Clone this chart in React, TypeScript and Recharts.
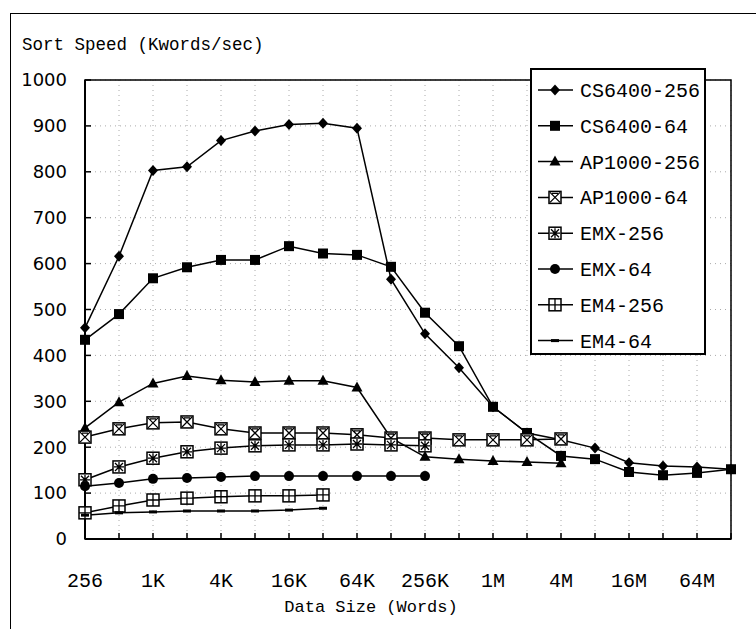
import {
  LineChart,
  Line,
  XAxis,
  YAxis,
  CartesianGrid,
  Legend,
  ReferenceArea,
} from "recharts";

const sizes = [
  "256", "512", "1K", "2K", "4K", "8K", "16K", "32K", "64K", "128K",
  "256K", "512K", "1M", "2M", "4M", "8M", "16M", "32M", "64M", "128M",
];
const shownTicks = ["256", "1K", "4K", "16K", "64K", "256K", "1M", "4M", "16M", "64M"];
const yTicks = [0, 100, 200, 300, 400, 500, 600, 700, 800, 900, 1000];

const cs6400_256 = [460, 616, 803, 811, 868, 889, 903, 906, 895, 566, 447, 373, 288, 231, 216, 198, 166, 159, 157, 152];
const cs6400_64 = [434, 490, 568, 592, 608, 608, 638, 622, 619, 593, 493, 420, 288, 231, 181, 174, 146, 139, 144, 152];
const ap1000_256 = [242, 298, 339, 355, 346, 342, 345, 345, 330, 220, 179, 174, 170, 168, 165];
const ap1000_64 = [222, 240, 253, 255, 240, 231, 231, 231, 227, 220, 220, 216, 216, 216, 218];
const emx_256 = [129, 157, 176, 190, 198, 203, 205, 205, 207, 205, 203];
const emx_64 = [115, 122, 131, 133, 135, 137, 137, 137, 137, 137, 137];
const em4_256 = [57, 72, 85, 89, 92, 94, 94, 96];
const em4_64 = [52, 57, 59, 61, 61, 61, 63, 67];

const series = [
  { key: "cs6400_256", name: "CS6400-256", kind: "diamond", values: cs6400_256 },
  { key: "cs6400_64", name: "CS6400-64", kind: "square", values: cs6400_64 },
  { key: "ap1000_256", name: "AP1000-256", kind: "triangle", values: ap1000_256 },
  { key: "ap1000_64", name: "AP1000-64", kind: "boxX", values: ap1000_64 },
  { key: "emx_256", name: "EMX-256", kind: "boxStar", values: emx_256 },
  { key: "emx_64", name: "EMX-64", kind: "circle", values: emx_64 },
  { key: "em4_256", name: "EM4-256", kind: "boxPlus", values: em4_256 },
  { key: "em4_64", name: "EM4-64", kind: "dash", values: em4_64 },
];

const data = sizes.map((size, i) => {
  const row: Record<string, any> = { size };
  series.forEach((s) => {
    row[s.key] = s.values[i] ?? null;
  });
  return row;
});

const Marker = ({ cx, cy, kind }: { cx: number; cy: number; kind: string }) => {
  const box = (extra: any) => (
    <g>
      <rect x={cx - 6} y={cy - 6} width={12} height={12} fill="#fff" stroke="#000" strokeWidth={1.5} />
      {extra}
    </g>
  );
  switch (kind) {
    case "diamond":
      return <polygon points={`${cx},${cy - 5.5} ${cx + 5},${cy} ${cx},${cy + 5.5} ${cx - 5},${cy}`} fill="#000" />;
    case "square":
      return <rect x={cx - 5} y={cy - 5} width={10} height={10} fill="#000" />;
    case "triangle":
      return <polygon points={`${cx},${cy - 6} ${cx + 5.5},${cy + 4} ${cx - 5.5},${cy + 4}`} fill="#000" />;
    case "circle":
      return <circle cx={cx} cy={cy} r={5} fill="#000" />;
    case "dash":
      return <rect x={cx - 4} y={cy - 1.5} width={8} height={3} fill="#000" />;
    case "boxX":
      return box(
        <path d={`M${cx - 5} ${cy - 5}L${cx + 5} ${cy + 5}M${cx + 5} ${cy - 5}L${cx - 5} ${cy + 5}M${cx - 3} ${cy - 4}H${cx + 3}`} stroke="#000" strokeWidth={1.3} />
      );
    case "boxStar":
      return box(
        <path d={`M${cx - 4} ${cy - 4}L${cx + 4} ${cy + 4}M${cx + 4} ${cy - 4}L${cx - 4} ${cy + 4}M${cx} ${cy - 5}V${cy + 5}M${cx - 5} ${cy}H${cx + 5}`} stroke="#000" strokeWidth={1.3} />
      );
    case "boxPlus":
      return box(<path d={`M${cx} ${cy - 6}V${cy + 6}M${cx - 6} ${cy}H${cx + 6}`} stroke="#000" strokeWidth={1.3} />);
    default:
      return null;
  }
};

// legend keeps the series order of the original (no alphabetical sort)
const renderLegend = () => (
  <svg width={176} height={287}>
    <rect x={1} y={1} width={174} height={285} fill="#fff" stroke="#000" strokeWidth={2} />
    {series.map((s, i) => {
      const y = 22 + i * 35.8;
      return (
        <g key={s.key}>
          <line x1={8} x2={43} y1={y} y2={y} stroke="#000" strokeWidth={1.5} />
          <Marker cx={25} cy={y} kind={s.kind} />
          <text x={50} y={y + 7} fontFamily="Liberation Mono" fontSize={20} fill="#000">
            {s.name}
          </text>
        </g>
      );
    })}
  </svg>
);

export default function App() {
  return (
    <div style={{ position: "absolute", left: 0, top: 0, width: 756, height: 629, background: "#fff" }}>
      <div
        style={{
          position: "absolute",
          left: 10,
          top: 13,
          width: 760,
          height: 620,
          borderTop: "1.5px solid #000",
          borderLeft: "1.5px solid #000",
        }}
      />
      <LineChart width={756} height={629} data={data} margin={{ top: 80, right: 25, bottom: 0, left: 0 }}>
        <CartesianGrid stroke="#aaa" strokeDasharray="1 4" />
        <XAxis
          dataKey="size"
          interval={0}
          height={90}
          tickSize={-6}
          tickMargin={40}
          tickFormatter={(v: string) => (shownTicks.includes(v) ? v : "")}
          tick={{ fontFamily: "Liberation Mono", fontSize: 20, fill: "#000" }}
          axisLine={{ stroke: "#000", strokeWidth: 2 }}
          tickLine={{ stroke: "#000", strokeWidth: 1.5 }}
          label={{
            content: () => (
              <text x={371} y={612} textAnchor="middle" fontFamily="Liberation Mono" fontSize={17} fill="#000">
                Data Size (Words)
              </text>
            ),
          }}
        />
        <YAxis
          width={85}
          domain={[0, 1000]}
          ticks={yTicks}
          interval={0}
          tickSize={-6}
          tickMargin={24}
          tick={{ fontFamily: "DejaVu Sans", fontSize: 18, fill: "#000" }}
          axisLine={{ stroke: "#000", strokeWidth: 2 }}
          tickLine={{ stroke: "#000", strokeWidth: 1.5 }}
          label={{
            content: () => (
              <text x={22} y={50} fontFamily="Liberation Mono" fontSize={17.5} fill="#000">
                Sort Speed (Kwords/sec)
              </text>
            ),
          }}
        />
        <ReferenceArea x1="256" x2="128M" y1={0} y2={1000} fill="none" stroke="#000" strokeWidth={1.5} />
        {series.map((s) => (
          <Line
            key={s.key}
            dataKey={s.key}
            name={s.name}
            stroke="#000"
            strokeWidth={1.5}
            isAnimationActive={false}
            dot={(p: any) =>
              p.cx == null || p.cy == null || p.value == null ? (
                <g key={`${s.key}-${p.index}`} />
              ) : (
                <g key={`${s.key}-${p.index}`}>
                  <Marker cx={p.cx} cy={p.cy} kind={s.kind} />
                </g>
              )
            }
            activeDot={false}
          />
        ))}
        <Legend
          layout="vertical"
          align="center"
          verticalAlign="middle"
          width={176}
          height={287}
          wrapperStyle={{ left: 530, top: 68, width: 176, height: 287 }}
          content={renderLegend}
        />
      </LineChart>
    </div>
  );
}
